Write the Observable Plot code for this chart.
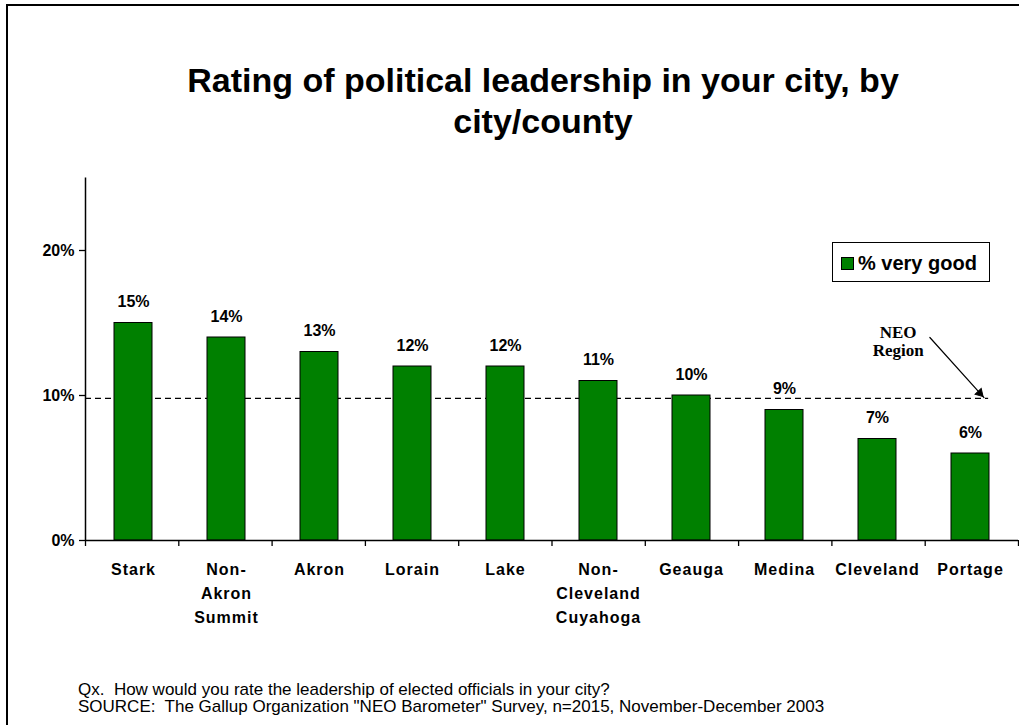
<!DOCTYPE html>
<html><head><meta charset="utf-8">
<script src="https://cdn.jsdelivr.net/npm/d3@7"></script>
<script src="https://cdn.jsdelivr.net/npm/@observablehq/plot@0.6"></script>
<style>
html,body{margin:0;padding:0;background:#fff;}
#page{position:relative;width:1019px;height:725px;overflow:hidden;font-family:"Liberation Sans",Arial,sans-serif;color:#000;}
#page svg{position:absolute;left:0;top:0;background:transparent;overflow:visible;}
#border{position:absolute;left:6px;top:4px;width:1100px;height:800px;border-left:2px solid #000;border-top:2px solid #000;}
#title{position:absolute;left:0;width:1086px;top:59.5px;text-align:center;font-weight:bold;font-size:34px;line-height:41px;}
#footer{position:absolute;left:78px;top:680.5px;font-size:17px;line-height:17px;white-space:pre;}
#legend{position:absolute;left:832px;top:242px;width:158px;height:40px;box-sizing:border-box;border:1px solid #000;background:#fff;z-index:5;}
#legend .sw{position:absolute;left:8px;top:14px;width:11px;height:11px;background:#008000;border:1px solid #000;}
#legend .lb{position:absolute;left:25px;top:8px;font-size:20px;font-weight:bold;line-height:24px;white-space:nowrap;}
</style></head>
<body>
<div id="page">
  <div id="border"></div>
  <div id="title">Rating of political leadership in your city, by<br>city/county</div>
  <div id="under"></div>
  <div id="main"></div>
  <div id="legend"><div class="sw"></div><div class="lb"></div></div>
  <div id="footer"></div>
</div>
<script>
const categories = ["Stark","Non-Akron Summit","Akron","Lorain","Lake","Non-Cleveland Cuyahoga","Geauga","Medina","Cleveland","Portage"];
const tickLabels = ["Stark","Non-\nAkron\nSummit","Akron","Lorain","Lake","Non-\nCleveland\nCuyahoga","Geauga","Medina","Cleveland","Portage"];
const veryGood = [15,14,13,12,12,11,10,9,7,6];
const neoRegion = 9.8;
const yTicks = [0,10,20];
const yMax = 25;
const seriesName = "% very good";
const neoLabel = "NEO\nRegion";
const footerLines = [
  "Qx.  How would you rate the leadership of elected officials in your city?",
  "SOURCE:  The Gallup Organization \"NEO Barometer\" Survey, n=2015, November-December 2003"
];
// annotation anchor points (in category-index / percent space)
const neoText = [{x: 8.71, y: 13.74}];
const neoArrow = [{x1: 9.05, y1: 14.0, x2: 9.63, y2: 9.85}];
const neoRuleEnd = 9.68;

const data = categories.map((c, i) => ({city: c, label: tickLabels[i], value: veryGood[i]}));

const W = 1019, H = 725, mL = 85, mR = 1, mT = 177.5, mB = 185;
const font = "'Liberation Sans', Arial, sans-serif";

const under = Plot.plot({
  width: W, height: H, marginLeft: mL, marginRight: mR, marginTop: mT, marginBottom: mB,
  style: {fontFamily: font, background: "transparent", color: "black"},
  x: {type: "linear", domain: [0, categories.length], axis: null},
  y: {domain: [0, yMax], axis: null},
  marks: [
    Plot.ruleY([neoRegion], {x1: 0, x2: neoRuleEnd, stroke: "black", strokeWidth: 1.3, strokeDasharray: "6,4"}),
    Plot.ruleX([0], {y1: 0, y2: yMax, stroke: "black", strokeWidth: 1.5}),
    Plot.axisX({ticks: d3.range(categories.length + 1), tickSize: 6, tickFormat: () => "", label: null, strokeWidth: 1.3}),
    Plot.text(neoText, {x: "x", y: "y", text: () => neoLabel, fontFamily: "'Liberation Serif', 'Times New Roman', serif", fontWeight: "bold", fontSize: 17, lineHeight: 1.09, lineAnchor: "middle", fill: "black"}),
    Plot.arrow(neoArrow, {x1: "x1", y1: "y1", x2: "x2", y2: "y2", stroke: "black", strokeWidth: 1.2, headLength: 0}),
    Plot.dot(neoArrow, {x: "x2", y: "y2", symbol: "triangle2", r: 4, rotate: 137, dx: -4.2, dy: -4.6, fill: "black", stroke: "black", strokeWidth: 1})
  ]
});

const main = Plot.plot({
  width: W, height: H, marginLeft: mL, marginRight: mR, marginTop: mT, marginBottom: mB,
  style: {fontFamily: font, background: "transparent", color: "black"},
  x: {type: "band", domain: categories, paddingInner: 0.59, paddingOuter: 0.295, align: 0.5},
  y: {domain: [0, yMax]},
  marks: [
    Plot.barY(data, {x: "city", y: "value", fill: "#008000", stroke: "black", strokeWidth: 1}),
    Plot.text(data, {x: "city", y: "value", text: d => d.value + "%", dy: -21, lineAnchor: "middle", fontSize: 16, fontWeight: "bold", fill: "black"}),
    Plot.ruleY([0], {stroke: "black", strokeWidth: 1.5}),
    Plot.axisY({ticks: yTicks, tickFormat: d => d + "%", tickSize: 6, tickPadding: 5, fontSize: 16, fontWeight: "bold", label: null, strokeWidth: 1.3}),
    Plot.axisX({tickSize: 0, tickPadding: 17.5, tickFormat: d => tickLabels[categories.indexOf(d)], fontSize: 16, fontWeight: "bold", lineHeight: 1.5, label: null})
  ]
});

document.getElementById("under").appendChild(under);
document.getElementById("main").appendChild(main);
main.querySelectorAll('g[aria-label="x-axis tick label"] text').forEach(t => t.setAttribute("letter-spacing", "1"));
document.querySelector("#legend .lb").textContent = seriesName;
document.getElementById("footer").textContent = footerLines.join("\n");
</script>
</body></html>
